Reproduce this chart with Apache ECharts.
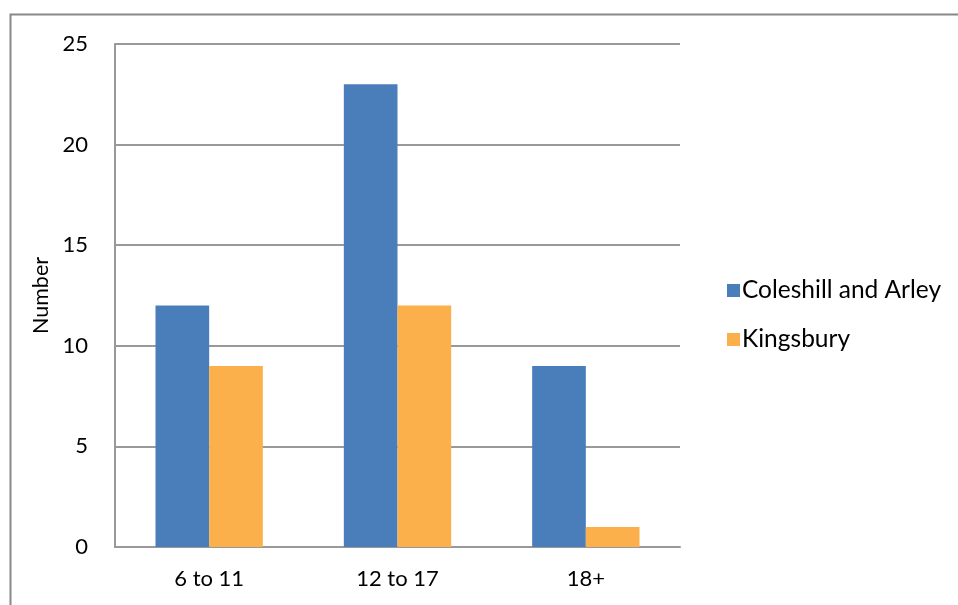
<!DOCTYPE html>
<html>
<head>
<meta charset="utf-8">
<script src="https://cdn.jsdelivr.net/npm/echarts@6/dist/echarts.min.js"></script>
<style>
  html, body { margin: 0; padding: 0; background: #fff; }
  #chart { width: 958px; height: 605px; }
</style>
</head>
<body>
<div id="chart"></div>
<script>
var ageGroups = ['6 to 11', '12 to 17', '18+'];
var coleshill = [12, 23, 9];
var kingsbury = [9, 12, 1];
var seriesNames = ['Coleshill and Arley', 'Kingsbury'];

var myChart = echarts.init(document.getElementById('chart'));
var font = 'Lato, Open Sans, sans-serif';

myChart.setOption({
    animation: false,
    color: ['#4a7ebb', '#fbb04b'],
    textStyle: { fontFamily: font },
    graphic: [{
        type: 'rect',
        shape: { x: 10.5, y: 14.5, width: 960, height: 600 },
        style: { fill: 'none', stroke: '#888', lineWidth: 2 },
        silent: true
    }],
    grid: { left: 115, top: 44, width: 565, height: 503, containLabel: false },
    legend: {
        orient: 'vertical',
        left: 722,
        top: 273,
        itemWidth: 13,
        itemHeight: 13,
        itemGap: 24,
        icon: 'rect',
        textStyle: { fontSize: 24.5, color: '#000', fontFamily: font, padding: [0, 0, 0, -3] },
        data: seriesNames
    },
    xAxis: {
        type: 'category',
        data: ageGroups,
        axisTick: { show: false },
        axisLine: { lineStyle: { color: '#999', width: 2 } },
        axisLabel: { fontSize: 22, color: '#000', margin: 21, fontFamily: font }
    },
    yAxis: {
        type: 'value',
        min: 0,
        max: 25,
        interval: 5,
        name: 'Number',
        nameLocation: 'middle',
        nameGap: 59,
        nameRotate: 90,
        nameTextStyle: { fontSize: 21.5, color: '#000', fontFamily: font },
        axisLine: { show: true, lineStyle: { color: '#999', width: 2 } },
        axisTick: { show: false },
        axisLabel: { fontSize: 22, color: '#000', margin: 27, fontFamily: font },
        splitLine: { lineStyle: { color: '#999', width: 2 } }
    },
    series: [
        {
            name: seriesNames[0],
            type: 'bar',
            barGap: 0,
            barCategoryGap: '43%',
            data: coleshill
        },
        {
            name: seriesNames[1],
            type: 'bar',
            data: kingsbury
        }
    ]
});
</script>
</body>
</html>
